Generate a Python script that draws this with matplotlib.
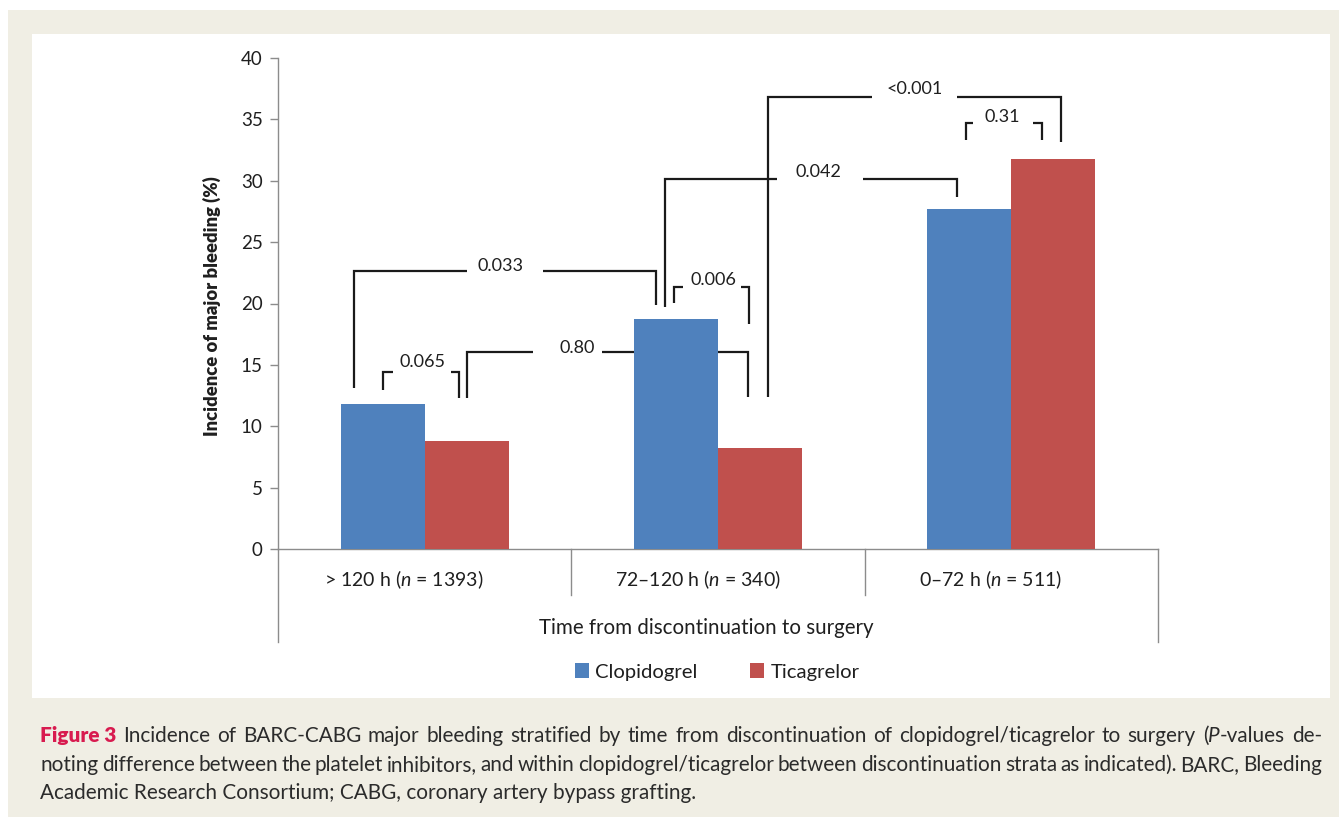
import matplotlib
matplotlib.use("Agg")
import matplotlib.pyplot as plt
import numpy as np
from matplotlib.patches import Rectangle
from matplotlib.lines import Line2D
from matplotlib.transforms import blended_transform_factory

plt.rcParams['font.family'] = ['Lato', 'DejaVu Sans']
plt.rcParams['mathtext.fontset'] = 'custom'
plt.rcParams['mathtext.rm'] = 'Lato'
plt.rcParams['mathtext.it'] = 'Lato:italic'

# incidence of major bleeding (%) per discontinuation stratum
strata = ["> 120 h", "72\u2013120 h", "0\u201372 h"]
n_patients = [1393, 340, 511]
clopidogrel = [11.8, 18.7, 27.7]
ticagrelor = [8.8, 8.2, 31.8]
p_labels = ["0.065", "0.80", "0.033", "0.006", "0.042", "<0.001", "0.31"]

# bracket geometry in data units: left x, right x, top y, left foot, right foot,
# gap in the top line (left, right), label position (x, y)
brackets = [
    (-0.142, 0.117, 14.42, 12.95, 12.30, (-0.108, 0.090), (-0.009, 15.23)),
    (0.144, 1.102, 16.05, 12.30, 12.38, (0.369, 0.605), (0.519, 16.37)),
    (-0.241, 0.789, 22.65, 13.12, 19.88, (0.144, 0.403), (0.257, 23.05)),
    (0.850, 1.106, 21.34, 20.04, 18.33, (0.881, 1.078), (0.983, 21.91)),
    (0.819, 1.815, 30.14, 19.72, 28.68, (1.201, 1.494), (1.344, 30.71)),
    (1.170, 2.169, 36.82, 12.38, 33.16, (1.525, 1.815), (1.672, 37.47)),
    (1.845, 2.105, 34.70, 33.32, 33.32, (1.869, 2.074), (1.968, 35.19)),
]

BLUE = '#4f81bd'
RED = '#c0504d'
AXIS_GREY = '#8c8c8c'
INK = '#1a1a1a'
TXT = '#1f1f1f'

W, H = 1339, 817
fig = plt.figure(figsize=(W / 100, H / 100), dpi=100)
fig.patch.set_facecolor('white')

# beige page and white chart panel
fig.patches.append(Rectangle((8 / W, 0), 1, 1 - 10 / H, transform=fig.transFigure,
                             facecolor='#f0eee4', edgecolor='none', zorder=-2))
fig.patches.append(Rectangle((32 / W, 1 - 698 / H), (1330 - 32) / W, (698 - 34) / H,
                             transform=fig.transFigure, facecolor='white',
                             edgecolor='none', zorder=-1))

ax = fig.add_axes([278 / W, 1 - 549 / H, (1158 - 278) / W, (549 - 58) / H])
ax.set_facecolor('none')

x = np.arange(len(strata))
bw = 0.2865
ax.bar(x - bw / 2, clopidogrel, bw, color=BLUE, zorder=3, label='Clopidogrel')
ax.bar(x + bw / 2, ticagrelor, bw, color=RED, zorder=3, label='Ticagrelor')

ax.set_xlim(-0.5, 2.5)
ax.set_ylim(0, 40)
ax.set_yticks(np.arange(0, 41, 5))
ax.set_xticks([])
ax.tick_params(axis='y', direction='out', length=6, width=1, color=AXIS_GREY,
               labelsize=13.5, labelcolor=TXT, pad=5)
for side in ('top', 'right'):
    ax.spines[side].set_visible(False)
for side in ('left', 'bottom'):
    ax.spines[side].set_color(AXIS_GREY)
    ax.spines[side].set_linewidth(1.0)

# category table lines under the axis
trans = blended_transform_factory(ax.transData, ax.transAxes)
for xv, depth in [(-0.5, 0.189), (0.5, 0.094), (1.5, 0.094), (2.5, 0.189)]:
    ax.add_line(Line2D([xv, xv], [0, -depth], transform=trans, color=AXIS_GREY,
                       lw=1.0, clip_on=False))

for i, (s, n) in enumerate(zip(strata, n_patients)):
    ax.text(i - 0.07, -0.063, s + r" ($\it{n}$ = " + str(n) + ")", transform=trans,
            ha='center', va='center', fontsize=14, color=TXT)

ax.text(0.96, -0.161, "Time from discontinuation to surgery", transform=trans,
        ha='center', va='center', fontsize=14.8, color=TXT)

fig.text(212 / W, 1 - 306 / H, "Incidence of major bleeding (%)", rotation=90,
         ha='center', va='center', fontsize=13.2, fontweight='heavy', color=TXT)

# significance brackets
for (xl, xr, yt, yl, yr, (gl, gr), (tx, ty)), lab in zip(brackets, p_labels):
    kw = dict(color=INK, lw=1.6, zorder=2, solid_joinstyle='miter', solid_capstyle='butt')
    ax.plot([xl, xl, gl], [yl, yt, yt], **kw)
    ax.plot([gr, xr, xr], [yt, yt, yr], **kw)
    ax.text(tx, ty, lab, ha='center', va='center', fontsize=13, color=TXT, zorder=4)

fig.legend(loc='center', bbox_to_anchor=(717 / W, 1 - 672 / H), ncol=2, frameon=False,
           fontsize=14.6, handlelength=0.7, handleheight=0.7, handletextpad=0.3,
           columnspacing=2.6, labelcolor=TXT)

# caption, first two lines justified
renderer = fig.canvas.get_renderer()
CAP_INK = '#2b2b2b'
FIG_RED = '#d81b4f'


def measure(txt, size, **kw):
    t = fig.text(0, 0, txt, fontsize=size, **kw)
    w = t.get_window_extent(renderer).width
    t.remove()
    return w


line3 = "Academic Research Consortium; CABG, coronary artery bypass grafting."
line1_text = ("Figure 3  Incidence of BARC-CABG major bleeding stratified by time from "
              "discontinuation of clopidogrel/ticagrelor to surgery (P-values de-")
fit3 = 10 * 650 / measure(line3, 10)
fit1 = 10 * 1282 / measure(line1_text, 10)
cap_size = 0.5 * (fit3 + fit1)


def justified(words, x0, x1, y, size):
    runs = []
    total = 0
    for word in words:
        row = []
        for txt, kw in word:
            t = fig.text(0, 0, txt, fontsize=size, va='baseline', ha='left', **kw)
            w = t.get_window_extent(renderer).width
            row.append((t, w))
            total += w
        runs.append(row)
    gap = (x1 - x0 - total) / (len(words) - 1)
    xp = x0
    for row in runs:
        for t, w in row:
            t.set_position((xp / W, 1 - y / H))
            xp += w
        xp += gap


plain = dict(color=CAP_INK)
line1 = [[("Figure 3", dict(color=FIG_RED, fontweight='heavy'))]]
line1 += [[(w, plain)] for w in
          "Incidence of BARC-CABG major bleeding stratified by time from discontinuation "
          "of clopidogrel/ticagrelor to surgery".split()]
line1 += [[("(", plain), ("P", dict(color=CAP_INK, style='italic')), ("-values", plain)],
          [("de-", plain)]]
line2 = [[(w, plain)] for w in
         "noting difference between the platelet inhibitors, and within clopidogrel/ticagrelor "
         "between discontinuation strata as indicated). BARC, Bleeding".split()]

justified(line1, 40, 1322, 742, cap_size)
justified(line2, 40, 1322, 771, cap_size)
fig.text(40 / W, 1 - 799 / H, line3, fontsize=cap_size, va='baseline', ha='left', color=CAP_INK)

fig.savefig("out.png", dpi=100)
